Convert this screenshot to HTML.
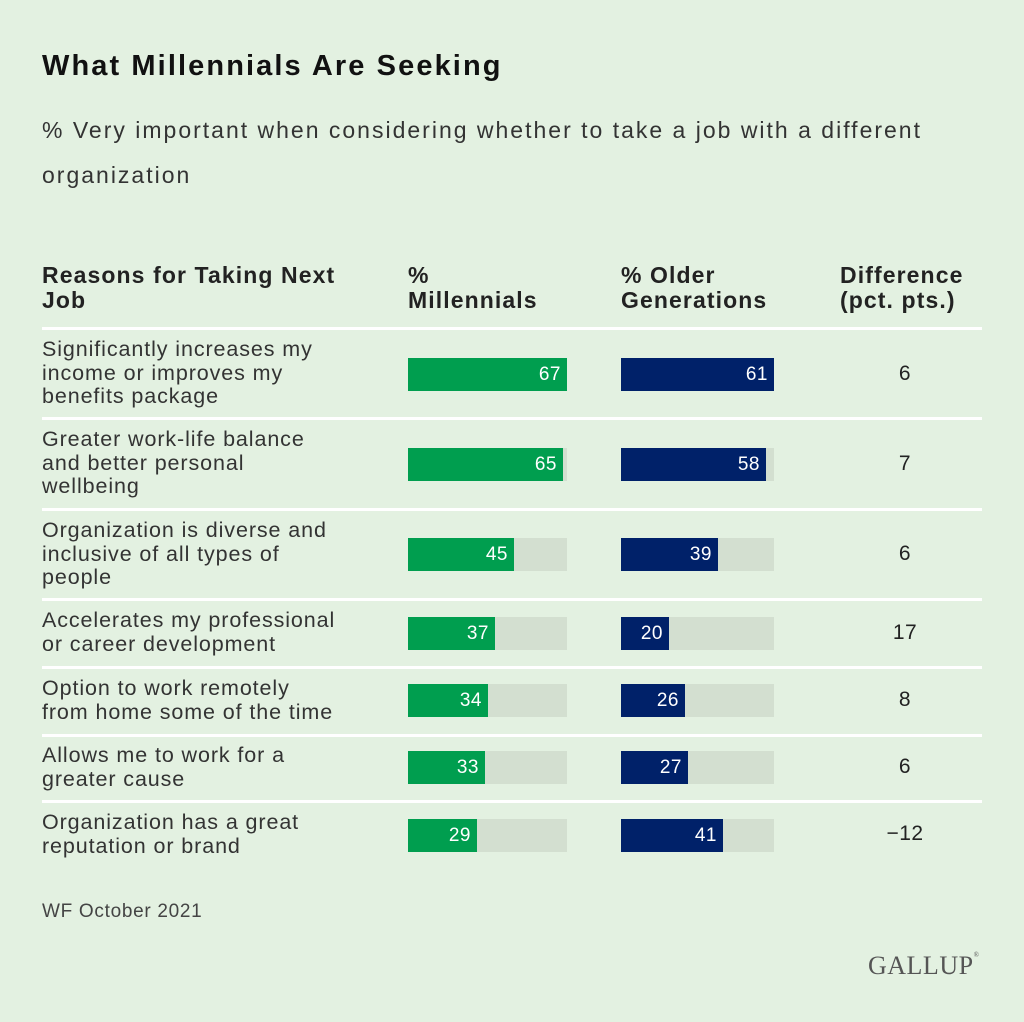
<!DOCTYPE html>
<html><head><meta charset="utf-8"><style>
body{margin:0;width:1024px;height:1022px;background:#e3f1e1;font-family:"Liberation Sans",sans-serif;color:#222;position:relative;overflow:hidden}
.a{position:absolute;white-space:nowrap}
.t{left:42px;top:50px;font-size:29px;letter-spacing:2.1px;font-weight:bold;color:#111}
.s{left:42px;top:108px;font-size:23px;letter-spacing:2px;line-height:45px;color:#333}
.h{font-size:23px;letter-spacing:1.1px;font-weight:bold;line-height:25px;color:#222}
.l{left:42px;font-size:21.5px;letter-spacing:0.9px;line-height:23.5px;color:#333}
.line{position:absolute;left:42px;width:940px;height:3px;background:#fff}
.tr{position:absolute;height:33px;background:#d3dfd0}
.b{position:absolute;left:0;top:0;height:33px;color:#fff;font-size:19px;letter-spacing:0.5px;line-height:33px;text-align:right;box-sizing:border-box;padding-right:6px}
.g{background:#009e4f}.n{background:#002169}
.d{position:absolute;width:60px;left:875px;text-align:center;font-size:21px;letter-spacing:0.5px}
</style></head><body>
<div class="a t">What Millennials Are Seeking</div>
<div class="a s">% Very important when considering whether to take a job with a different<br>organization</div>
<div class="a h" style="left:42px;top:263px">Reasons for Taking Next<br>Job</div>
<div class="a h" style="left:408px;top:263px">%<br>Millennials</div>
<div class="a h" style="left:621px;top:263px">% Older<br>Generations</div>
<div class="a h" style="left:840px;top:263px">Difference<br>(pct. pts.)</div>
<div class="line" style="top:327px"></div>
<div class="line" style="top:417px"></div>
<div class="line" style="top:508px"></div>
<div class="line" style="top:598px"></div>
<div class="line" style="top:666px"></div>
<div class="line" style="top:734px"></div>
<div class="line" style="top:800px"></div>

<div class="a l" style="top:338px">Significantly increases my<br>income or improves my<br>benefits package</div>
<div class="tr" style="left:408px;top:358px;width:159px"><div class="b g" style="width:159px">67</div></div>
<div class="tr" style="left:621px;top:358px;width:153px"><div class="b n" style="width:153px">61</div></div>
<div class="a d" style="top:362px">6</div>

<div class="a l" style="top:428px">Greater work-life balance<br>and better personal<br>wellbeing</div>
<div class="tr" style="left:408px;top:448px;width:159px"><div class="b g" style="width:155px">65</div></div>
<div class="tr" style="left:621px;top:448px;width:153px"><div class="b n" style="width:145px">58</div></div>
<div class="a d" style="top:452px">7</div>

<div class="a l" style="top:519px">Organization is diverse and<br>inclusive of all types of<br>people</div>
<div class="tr" style="left:408px;top:538px;width:159px"><div class="b g" style="width:106px">45</div></div>
<div class="tr" style="left:621px;top:538px;width:153px"><div class="b n" style="width:97px">39</div></div>
<div class="a d" style="top:542px">6</div>

<div class="a l" style="top:609px">Accelerates my professional<br>or career development</div>
<div class="tr" style="left:408px;top:617px;width:159px"><div class="b g" style="width:87px">37</div></div>
<div class="tr" style="left:621px;top:617px;width:153px"><div class="b n" style="width:48px">20</div></div>
<div class="a d" style="top:621px">17</div>

<div class="a l" style="top:677px">Option to work remotely<br>from home some of the time</div>
<div class="tr" style="left:408px;top:684px;width:159px"><div class="b g" style="width:80px">34</div></div>
<div class="tr" style="left:621px;top:684px;width:153px"><div class="b n" style="width:64px">26</div></div>
<div class="a d" style="top:688px">8</div>

<div class="a l" style="top:744px">Allows me to work for a<br>greater cause</div>
<div class="tr" style="left:408px;top:751px;width:159px"><div class="b g" style="width:77px">33</div></div>
<div class="tr" style="left:621px;top:751px;width:153px"><div class="b n" style="width:67px">27</div></div>
<div class="a d" style="top:755px">6</div>

<div class="a l" style="top:811px">Organization has a great<br>reputation or brand</div>
<div class="tr" style="left:408px;top:819px;width:159px"><div class="b g" style="width:69px">29</div></div>
<div class="tr" style="left:621px;top:819px;width:153px"><div class="b n" style="width:102px">41</div></div>
<div class="a d" style="top:822px">−12</div>

<div class="a" style="left:42px;top:901px;font-size:19px;letter-spacing:0.7px;color:#444">WF October 2021</div>
<div class="a" style="left:868px;top:951px;font-family:'Liberation Serif',serif;font-size:26px;color:#555;letter-spacing:0.5px">GALLUP<span style="font-size:7px;vertical-align:top">®</span></div>
</body></html>
